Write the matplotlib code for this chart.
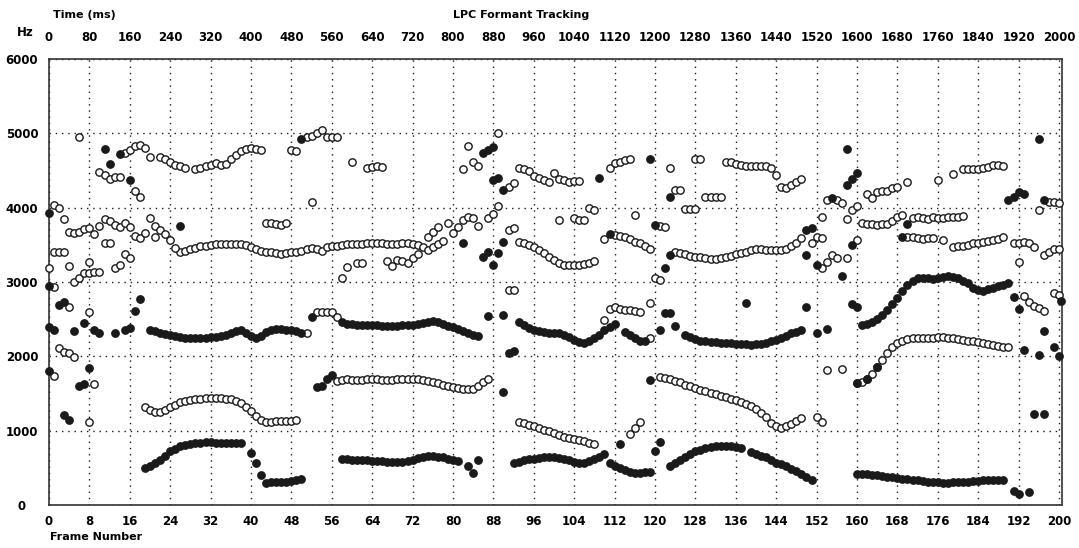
import matplotlib.pyplot as plt

# formant tracks: (first frame, Hz per consecutive frame)
solid_runs = [
    (19, [500, 530, 570, 610, 660, 720, 760, 790, 810, 825, 835, 840, 845, 845, 840, 835, 830, 830, 835, 840]),
    (43, [300, 305, 310, 310, 315, 320, 330, 355]),
    (58, [620, 615, 610, 608, 605, 600, 598, 595, 590, 585, 582, 580, 585, 595, 610, 630, 645, 655, 658, 650,
          640, 625, 605, 590]),
    (92, [565, 585, 600, 615, 625, 635, 640, 645, 645, 635, 620, 600, 585, 570, 565, 590, 620, 650, 685]),
    (111, [560, 530, 500, 470, 445, 435, 435, 440, 445]),
    (123, [520, 560, 610, 650, 690, 720, 745, 765, 780, 790, 795, 795, 790, 780, 770]),
    (139, [712, 690, 665, 640, 600, 570, 545, 520, 490, 460, 420, 380, 340]),
    (160, [420, 420, 415, 410, 400, 390, 380, 370, 360, 350, 345, 335, 330, 320, 315, 310, 305, 300, 300, 305,
           310, 310, 315, 320, 325, 330, 335, 340, 340, 335]),
    (53, [1590, 1600, 1700, 1750]),
    (20, [2350, 2340, 2320, 2300, 2290, 2270, 2260, 2250, 2240, 2240, 2250, 2250, 2260, 2260, 2270, 2290, 2310,
          2340, 2350, 2320, 2280, 2240, 2270, 2330, 2360, 2370, 2365, 2360, 2350, 2340, 2320]),
    (58, [2460, 2440, 2430, 2425, 2420, 2420, 2420, 2415, 2410, 2410, 2410, 2410, 2415, 2420, 2425, 2440, 2455,
          2465, 2470, 2465, 2440, 2410, 2390, 2370, 2340, 2310, 2290, 2280]),
    (93, [2460, 2420, 2380, 2350, 2340, 2330, 2320, 2320, 2310, 2290, 2260, 2220, 2190, 2180, 2200, 2240, 2290,
          2350, 2400, 2440]),
    (114, [2330, 2290, 2250, 2200, 2200]),
    (126, [2290, 2260, 2230, 2210, 2200, 2195, 2190, 2185, 2180, 2175, 2170, 2165, 2160, 2155, 2160, 2170, 2185,
           2200, 2220, 2250, 2280, 2310, 2330, 2350]),
    (161, [2420, 2440, 2460, 2500, 2560, 2620, 2700, 2790, 2880, 2960, 3020, 3060, 3060, 3050, 3040, 3050, 3070,
           3080, 3070, 3050, 3020, 2980, 2920, 2890, 2880, 2900, 2920, 2940, 2960, 2980]),
]

hollow_runs = [
    (19, [1320, 1280, 1250, 1250, 1280, 1320, 1350, 1380, 1400, 1410, 1420, 1430, 1435, 1440, 1440, 1435, 1430,
          1420, 1400, 1370, 1320, 1260, 1200, 1150, 1120, 1120, 1125, 1125, 1130, 1130, 1150]),
    (57, [1670, 1680, 1690, 1680, 1680, 1685, 1690, 1690, 1690, 1685, 1685, 1685, 1690, 1690, 1695, 1695, 1690,
          1680, 1670, 1655, 1640, 1620, 1600, 1585, 1575, 1565, 1560, 1565, 1600, 1650, 1690]),
    (93, [1115, 1100, 1080, 1060, 1040, 1015, 990, 965, 940, 920, 900, 885, 875, 860, 840, 820]),
    (115, [955, 1035, 1115]),
    (121, [1720, 1710, 1690, 1670, 1650, 1620, 1600, 1575, 1550, 1530, 1510, 1490, 1470, 1450, 1430, 1410, 1390,
           1360, 1330, 1290, 1240, 1180, 1100, 1060, 1040, 1060, 1090, 1130, 1170]),
    (160, [1640, 1660, 1700, 1760, 1850, 1950, 2040, 2120, 2180, 2210, 2230, 2240, 2240, 2240, 2245, 2250, 2260,
           2255, 2250, 2240, 2235, 2220, 2210, 2200, 2190, 2180, 2160, 2150, 2140, 2130, 2130]),
    (53, [2590, 2600, 2600, 2590, 2530]),
    (111, [2640, 2660, 2640, 2630, 2620, 2610, 2600]),
    (26, [3400, 3420, 3440, 3460, 3480, 3490, 3500, 3505, 3510, 3510, 3515, 3510, 3505, 3500, 3470, 3440, 3420,
          3410, 3400, 3390, 3380, 3390, 3400, 3410, 3420, 3450, 3460, 3440, 3420, 3470, 3480, 3490, 3500, 3505,
          3510, 3510, 3515, 3520, 3520, 3520, 3520, 3515, 3510, 3515, 3520, 3520, 3515, 3500, 3470, 3430]),
    (93, [3540, 3520, 3500, 3470, 3430, 3390, 3340, 3290, 3250, 3230, 3225, 3225, 3230, 3240, 3260, 3280]),
    (112, [3630, 3620, 3600, 3575, 3540, 3520, 3480, 3450]),
    (124, [3400, 3390, 3370, 3350, 3340, 3330, 3320, 3310, 3310, 3320, 3330, 3350, 3370, 3390, 3410, 3430, 3440,
           3440, 3435, 3430, 3430, 3435, 3450, 3480, 3530, 3590]),
    (161, [3790, 3780, 3775, 3770, 3775, 3780, 3820, 3880, 3900]),
    (171, [3860, 3870, 3860, 3850, 3870, 3860, 3865, 3870, 3875, 3880, 3890]),
    (170, [3600, 3600, 3590, 3580, 3590, 3590]),
    (179, [3470, 3480, 3490, 3500, 3520, 3530, 3540, 3550, 3560, 3580, 3610]),
    (4, [3670, 3660, 3670, 3710, 3720]),
    (43, [3800, 3790, 3780, 3770, 3790]),
    (10, [4480, 4440, 4380, 4410, 4410]),
    (15, [4740, 4770, 4825, 4840, 4800]),
    (22, [4680, 4650, 4620, 4580, 4560, 4540]),
    (29, [4520, 4540, 4555, 4570, 4595, 4570, 4585]),
    (36, [4650, 4715, 4760, 4785, 4800, 4785, 4770]),
    (51, [4950, 4970, 5000, 5040]),
    (55, [4950, 4950, 4950]),
    (63, [4540, 4550, 4560, 4550]),
    (93, [4540, 4520, 4500, 4420, 4400, 4370, 4350]),
    (101, [4390, 4370, 4350, 4360, 4360]),
    (111, [4530, 4595, 4610, 4635, 4660]),
    (130, [4140, 4140, 4140, 4140]),
    (134, [4620, 4610, 4590, 4570, 4560, 4560, 4560, 4560, 4555, 4540, 4440]),
    (145, [4275, 4260, 4300, 4340, 4380]),
    (162, [4180, 4130, 4210, 4230, 4230, 4270, 4280]),
    (181, [4520, 4520, 4520, 4520, 4530, 4550, 4570, 4580, 4560]),
]

# isolated estimates: (frame, Hz)
solid_points = [
    (40, 700), (41, 565), (42, 400), (83, 524), (84, 430), (85, 605), (113, 820), (120, 725), (121, 847),
    (191, 188), (192, 148), (194, 175),
    (90, 1520), (119, 1680), (195, 1225), (197, 1225), (160, 1640), (162, 1700), (164, 1850),
    (3, 1210), (4, 1150), (0, 1800), (8, 1840), (6, 1600), (7, 1625),
    (52, 2530), (87, 2540), (90, 2553), (91, 2045), (92, 2070), (121, 2350), (122, 2580), (123, 2580),
    (124, 2405), (138, 2715), (150, 2660), (152, 2320), (154, 2365), (159, 2700), (160, 2660), (191, 2795),
    (192, 2635), (197, 2340), (193, 2085), (196, 2015), (199, 2125), (200, 2000), (200.5, 2740),
    (0, 2390), (1, 2350), (5, 2340), (7, 2445), (9, 2350), (10, 2310), (13, 2310), (15, 2350), (16, 2380),
    (17, 2610), (18, 2770), (2, 2690), (3, 2730), (0, 2945),
    (82, 3520), (86, 3330), (87, 3400), (88, 3230), (89, 3390), (90, 3535), (111, 3640), (122, 3185),
    (120, 3765), (123, 3360), (150, 3360), (150, 3700), (151, 3720), (152, 3225), (157, 3080), (159, 3495),
    (169, 3600), (170, 3780), (0, 3925), (26, 3750), (16, 4370),
    (11, 4785), (12, 4585), (14, 4720), (50, 4920), (86, 4740), (87, 4780), (88, 4810), (88, 4370),
    (89, 4395), (90, 4240), (109, 4395), (119, 4650), (123, 4150), (158, 4785), (158, 4300), (159, 4380),
    (160, 4460), (196, 4930), (190, 4100), (191, 4150), (192, 4210), (193, 4190), (155, 4125), (197, 4100),
]

hollow_points = [
    (8, 1115), (1, 1740), (9, 1625), (152, 1180), (153, 1120),
    (2, 2110), (3, 2060), (4, 2045), (5, 1990), (154, 1815), (157, 1830),
    (51, 2310), (4, 2660), (8, 2595), (110, 2490), (119, 2715), (119, 2240), (193, 2810), (194, 2730),
    (195, 2680), (196, 2650), (197, 2610), (199, 2850), (200, 2820), (91, 2890), (92, 2890), (1, 2930),
    (58, 3060), (59, 3200), (61, 3250), (62, 3250), (67, 3280), (68, 3210), (69, 3290), (70, 3280),
    (71, 3250), (72, 3320), (73, 3370), (76, 3470), (77, 3510), (78, 3550),
    (75, 3600), (76, 3670), (77, 3740), (79, 3790), (80, 3660), (81, 3740), (82, 3830), (83, 3870),
    (84, 3860), (85, 3760), (87, 3860), (88, 3920), (89, 4020), (91, 3700), (92, 3720),
    (110, 3575), (120, 3060), (121, 3025), (121, 3760), (122, 3740),
    (151, 3520), (152, 3600), (153, 3590), (153, 3185), (154, 3265), (155, 3360), (156, 3320), (158, 3320),
    (160, 3560), (153, 3870), (154, 4100), (156, 4100), (157, 4060), (158, 3845), (159, 3965), (160, 4020),
    (177, 3560), (191, 3520), (192, 3530), (193, 3540), (194, 3520), (195, 3470), (197, 3360), (198, 3400),
    (199, 3440), (200, 3440), (192, 3265),
    (1, 4030), (2, 4000), (3, 3845), (9, 3640), (10, 3760), (11, 3850), (12, 3820), (13, 3770), (14, 3740),
    (15, 3790), (16, 3740), (17, 3615), (18, 3590), (19, 3655), (20, 3860), (21, 3760), (21, 3600),
    (22, 3700), (23, 3650), (24, 3570), (25, 3455), (11, 3520), (12, 3520), (1, 3400), (2, 3400), (3, 3400),
    (0, 3185), (4, 3213), (8, 3265), (5, 3000), (6, 3050), (7, 3120), (8, 3125), (9, 3130), (10, 3130),
    (13, 3185), (14, 3225), (15, 3370), (16, 3320),
    (6, 4950), (17, 4230), (18, 4140), (20, 4680), (48, 4770), (49, 4760), (52, 4070), (60, 4620),
    (82, 4520), (83, 4830), (84, 4610), (85, 4560), (89, 5000), (91, 4280), (92, 4330), (100, 4470),
    (101, 3830), (104, 3857), (105, 3830), (106, 3830), (107, 3990), (108, 3965), (116, 3900), (123, 4540),
    (124, 4235), (125, 4235), (126, 3980), (127, 3980), (128, 3980), (128, 4650), (129, 4650), (170, 4340),
    (176, 4370), (179, 4450), (196, 3965), (198, 4080), (199, 4070), (200, 4060),
]

frame_ticks = list(range(0, 201, 8))
hz_ticks = [0, 1000, 2000, 3000, 4000, 5000, 6000]

ink = '#1a1a1a'
hollow_style = dict(marker='o', linestyle='none', markersize=5.3, markeredgewidth=1.0,
                    markeredgecolor=ink, markerfacecolor='white', clip_on=False, zorder=3)
solid_style = dict(hollow_style, markerfacecolor=ink, zorder=4)

fig = plt.figure(figsize=(10.79, 5.48), dpi=100)
ax = fig.add_axes([49 / 1079, 1 - 505 / 548, 1013 / 1079, 446 / 548])

for start, values in hollow_runs:
    ax.plot(range(start, start + len(values)), values, **hollow_style)
ax.plot([p[0] for p in hollow_points], [p[1] for p in hollow_points], **hollow_style)
for start, values in solid_runs:
    ax.plot(range(start, start + len(values)), values, **solid_style)
ax.plot([p[0] for p in solid_points], [p[1] for p in solid_points], **solid_style)

ax.set_xlim(0, 200.6)
ax.set_ylim(0, 6000)
ax.set_xticks(frame_ticks)
ax.set_yticks(hz_ticks)
ax.grid(True, color=ink, linestyle=(0, (1, 3.5)), linewidth=1.0)
ax.set_axisbelow(True)
for spine in ax.spines.values():
    spine.set_color('#333333')
    spine.set_linewidth(1.2)

tick_font = dict(fontsize=8.5, fontweight='bold')
ax.tick_params(axis='x', length=0, pad=7, labelsize=8.5)
ax.tick_params(axis='y', length=0, pad=19.5, labelsize=8.5)
for lab in ax.get_xticklabels():
    lab.set_fontweight('bold')
for lab in ax.get_yticklabels():
    lab.set_fontweight('bold')
    lab.set_horizontalalignment('center')

top = ax.secondary_xaxis('top', functions=(lambda f: f * 10, lambda t: t / 10))
top.set_xticks([f * 10 for f in frame_ticks])
top.tick_params(length=0, pad=11, labelsize=8.5)
for lab in top.get_xticklabels():
    lab.set_fontweight('bold')
top.spines['top'].set_visible(False)

fig.text(53 / 1079, 1 - 15 / 548, 'Time (ms)', ha='left', va='center', fontsize=8, fontweight='bold')
fig.text(521 / 1079, 1 - 15 / 548, 'LPC Formant Tracking', ha='center', va='center', fontsize=8,
         fontweight='bold')
fig.text(25 / 1079, 1 - 33 / 548, 'Hz', ha='center', va='center', fontsize=8.5, fontweight='bold')
fig.text(50 / 1079, 1 - 537 / 548, 'Frame Number', ha='left', va='center', fontsize=8, fontweight='bold')

fig.savefig('out.png', dpi=100)
